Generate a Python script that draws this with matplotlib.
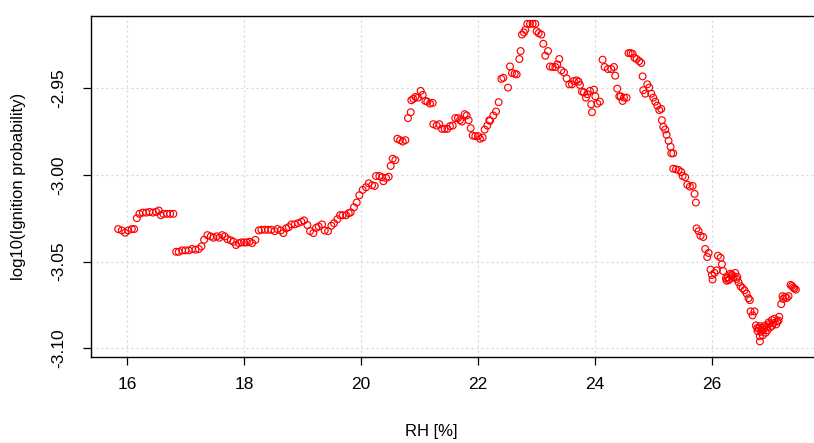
import matplotlib
matplotlib.use("Agg")
import matplotlib.pyplot as plt

# RH [%] and log10(ignition probability)
rh = [
    15.846, 15.909, 15.966, 16.017, 16.080, 16.120,
    16.166, 16.210, 16.268, 16.325, 16.381, 16.440, 16.496, 16.542, 16.576, 16.620, 16.679, 16.735, 16.791,
    16.838, 16.883, 16.940, 16.997, 17.054, 17.111, 17.168, 17.225, 17.271, 17.316, 17.373, 17.430, 17.476,
    17.533, 17.578, 17.624, 17.670, 17.715, 17.772, 17.818, 17.863, 17.909, 17.954, 18.000, 18.046, 18.091,
    18.137, 18.194, 18.251, 18.296, 18.353, 18.410, 18.467, 18.524, 18.570, 18.627, 18.672, 18.718, 18.764,
    18.809, 18.866, 18.923, 18.980, 19.026, 19.083, 19.128, 19.185, 19.231, 19.276, 19.333, 19.379, 19.436,
    19.493, 19.538, 19.595, 19.641, 19.687, 19.744, 19.789,
    19.823, 19.880, 19.926, 19.971, 20.028, 20.085, 20.131, 20.188, 20.234, 20.256, 20.313, 20.359, 20.382,
    20.427, 20.473, 20.507, 20.541, 20.587, 20.621, 20.667, 20.712, 20.758, 20.803, 20.849, 20.860, 20.895,
    20.929, 20.974, 21.020, 21.054, 21.100, 21.134, 21.179, 21.225, 21.236, 21.293, 21.339, 21.385, 21.430,
    21.476, 21.521, 21.567, 21.612, 21.658, 21.692, 21.726, 21.772, 21.806, 21.840, 21.875, 21.909, 21.954,
    22.000, 22.034, 22.080, 22.114, 22.160, 22.194,
    22.205, 22.262, 22.308, 22.353, 22.399, 22.433, 22.513, 22.547, 22.581, 22.627, 22.661, 22.707, 22.729,
    22.752, 22.786, 22.809, 22.843, 22.889, 22.934, 22.980, 23.003, 23.037, 23.083, 23.117, 23.151, 23.197,
    23.231, 23.276, 23.322, 23.356, 23.390, 23.425, 23.470, 23.516, 23.561, 23.607, 23.641, 23.687, 23.721,
    23.744, 23.778, 23.812, 23.846, 23.869, 23.915, 23.937, 23.949, 23.983, 24.006, 24.040, 24.085, 24.131,
    24.165, 24.222, 24.279, 24.325, 24.347, 24.382, 24.416,
    24.439, 24.473, 24.496, 24.541, 24.575, 24.609, 24.644, 24.678, 24.712, 24.758, 24.792, 24.815, 24.826,
    24.860, 24.895, 24.929, 24.963, 24.997, 25.031, 25.066, 25.100, 25.134, 25.145, 25.168, 25.202, 25.225,
    25.259, 25.293, 25.305, 25.339, 25.339, 25.385, 25.430, 25.476, 25.499, 25.544, 25.579, 25.624, 25.670,
    25.704, 25.726, 25.738, 25.772, 25.806, 25.852, 25.886, 25.920, 25.943,
    25.977, 26.000, 26.011, 26.045, 26.080, 26.103, 26.148, 26.171, 26.194, 26.239, 26.285, 26.319, 26.353,
    26.399, 26.433, 26.456, 26.490, 26.524, 26.558, 26.593, 26.627, 26.650, 26.661, 26.695, 26.729, 26.752,
    26.775, 26.821, 26.821, 26.855, 26.889, 26.934, 26.980, 27.026, 27.071, 27.117, 27.151, 27.185, 27.208,
    27.254, 27.311, 27.345, 27.390, 27.436,
    26.250, 26.270, 26.300, 26.340, 26.370, 26.420,
    26.780, 26.800, 26.820, 26.840, 26.860, 26.870, 26.900, 26.920, 26.950, 26.970, 27.000, 27.030, 27.050,
    27.100, 27.140, 27.220, 27.280, 27.370, 27.410,
]
log_p = [
    -3.0312, -3.0320, -3.0333, -3.0320, -3.0312, -3.0312,
    -3.0249, -3.0224, -3.0217, -3.0217, -3.0213, -3.0217, -3.0213, -3.0205, -3.0232, -3.0224, -3.0224, -3.0224, -3.0224,
    -3.0443, -3.0443, -3.0435, -3.0435, -3.0435, -3.0427, -3.0431, -3.0427, -3.0412, -3.0374, -3.0347, -3.0354, -3.0362,
    -3.0354, -3.0362, -3.0347, -3.0354, -3.0370, -3.0377, -3.0385, -3.0404, -3.0393, -3.0389, -3.0389, -3.0389, -3.0385,
    -3.0393, -3.0374, -3.0320, -3.0316, -3.0316, -3.0316, -3.0316, -3.0324, -3.0312, -3.0320, -3.0335, -3.0308, -3.0301,
    -3.0285, -3.0285, -3.0278, -3.0270, -3.0262, -3.0289, -3.0324, -3.0335, -3.0305, -3.0297, -3.0285, -3.0320, -3.0324,
    -3.0293, -3.0278, -3.0255, -3.0232, -3.0232, -3.0232, -3.0220,
    -3.0216, -3.0186, -3.0159, -3.0117, -3.0086, -3.0071, -3.0048, -3.0059, -3.0063, -3.0006, -3.0006, -3.0013, -3.0036,
    -3.0017, -3.0010, -2.9948, -2.9906, -2.9914, -2.9791, -2.9799, -2.9807, -2.9799, -2.9672, -2.9638, -2.9569, -2.9561,
    -2.9550, -2.9554, -2.9515, -2.9538, -2.9573, -2.9577, -2.9588, -2.9584, -2.9707, -2.9715, -2.9707, -2.9734, -2.9734,
    -2.9734, -2.9718, -2.9715, -2.9672, -2.9672, -2.9684, -2.9692, -2.9649, -2.9657, -2.9684, -2.9730, -2.9772, -2.9776,
    -2.9776, -2.9791, -2.9784, -2.9738, -2.9715, -2.9684,
    -2.9688, -2.9657, -2.9634, -2.9580, -2.9446, -2.9439, -2.9496, -2.9374, -2.9412, -2.9416, -2.9420, -2.9331, -2.9285,
    -2.9190, -2.9178, -2.9163, -2.9128, -2.9128, -2.9128, -2.9128, -2.9171, -2.9182, -2.9190, -2.9243, -2.9312, -2.9285,
    -2.9374, -2.9377, -2.9377, -2.9362, -2.9331, -2.9397, -2.9408, -2.9443, -2.9477, -2.9477, -2.9458, -2.9454, -2.9462,
    -2.9481, -2.9519, -2.9523, -2.9554, -2.9534, -2.9515, -2.9592, -2.9638, -2.9508, -2.9546, -2.9588, -2.9577, -2.9335,
    -2.9377, -2.9389, -2.9389, -2.9377, -2.9427, -2.9502, -2.9546,
    -2.9546, -2.9573, -2.9554, -2.9554, -2.9297, -2.9297, -2.9301, -2.9324, -2.9331, -2.9343, -2.9354, -2.9431, -2.9511,
    -2.9531, -2.9477, -2.9496, -2.9531, -2.9554, -2.9577, -2.9600, -2.9626, -2.9619, -2.9684, -2.9722, -2.9738, -2.9768,
    -2.9803, -2.9837, -2.9875, -2.9875, -2.9964, -2.9967, -2.9971, -2.9983, -3.0006, -3.0013, -3.0056, -3.0067, -3.0063,
    -3.0109, -3.0159, -3.0308, -3.0324, -3.0351, -3.0358, -3.0427, -3.0473, -3.0450,
    -3.0546, -3.0577, -3.0603, -3.0565, -3.0550, -3.0466, -3.0477, -3.0515, -3.0554, -3.0596, -3.0607, -3.0569, -3.0580,
    -3.0565, -3.0588, -3.0619, -3.0642, -3.0653, -3.0665, -3.0684, -3.0711, -3.0722, -3.0787, -3.0810, -3.0787, -3.0868,
    -3.0883, -3.0872, -3.0960, -3.0898, -3.0891, -3.0875, -3.0860, -3.0837, -3.0829, -3.0845, -3.0818, -3.0745, -3.0699,
    -3.0703, -3.0699, -3.0634, -3.0649, -3.0661,
    -3.0610, -3.0590, -3.0600, -3.0575, -3.0590, -3.0600,
    -3.0900, -3.0885, -3.0930, -3.0905, -3.0880, -3.0925, -3.0870, -3.0910, -3.0895, -3.0850, -3.0878, -3.0870, -3.0855,
    -3.0862, -3.0840, -3.0715, -3.0710, -3.0640, -3.0655,
]
x_ticks = [16, 18, 20, 22, 24, 26]
y_ticks = [-3.10, -3.05, -3.00, -2.95]

plt.rcParams["font.family"] = ["Liberation Sans", "DejaVu Sans"]

fig = plt.figure(figsize=(8.14, 4.43), dpi=100)
# right edge of the box lies outside the picture, as in the cropped original
ax = fig.add_axes([91 / 814, 86 / 443, 732 / 814, 341.5 / 443])

ax.scatter(rh, log_p, s=24, facecolors="none", edgecolors="red", linewidths=0.85, zorder=3)

ax.set_xlim(15.382, 27.90)
ax.set_ylim(-3.105, -2.908)
ax.set_xticks(x_ticks)
ax.set_xticklabels([str(t) for t in x_ticks])
ax.set_yticks(y_ticks)
ax.set_yticklabels([f"{t:.2f}" for t in y_ticks], rotation=90, va="center")
ax.grid(True, color="#d3d3d3", linestyle=(0, (1.5, 2.5)), linewidth=0.9, zorder=0)
ax.tick_params(axis="both", length=5.5, width=0.9, labelsize=12.5, color="black")
ax.tick_params(axis="x", pad=9)
ax.tick_params(axis="y", pad=12)
for sp in ax.spines.values():
    sp.set_linewidth(1.0)
    sp.set_color("black")

ax.set_xlabel("RH [%]", fontsize=12)
ax.xaxis.set_label_coords(0.465, -0.197)
ax.set_ylabel("log10(Ignition probability)", fontsize=12, va="center")
ax.yaxis.set_label_coords(-0.0995, 0.5)

fig.savefig("out.png", dpi=100)
